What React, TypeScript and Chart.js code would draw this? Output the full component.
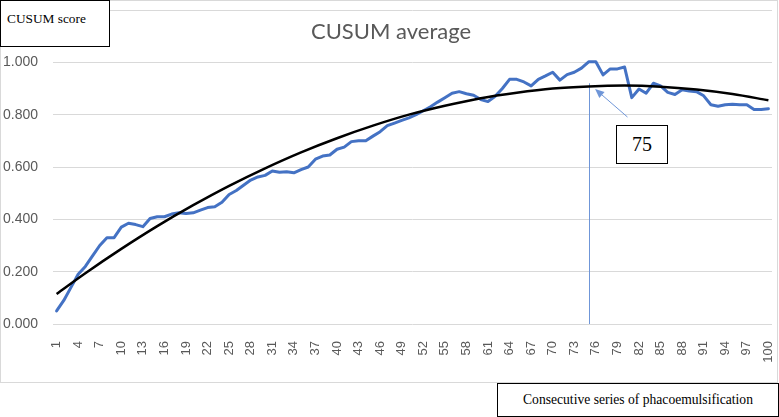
import { useEffect, useRef } from 'react';
import { Chart, registerables } from 'chart.js';

Chart.register(...registerables);

const categories: string[] = Array.from({ length: 100 }, (_, i) => String(i + 1));

const cusumAverage: number[] = [
  0.05, 0.09, 0.14, 0.19, 0.22, 0.26, 0.3, 0.33, 0.33, 0.37,
  0.385, 0.38, 0.372, 0.403, 0.41, 0.41, 0.42, 0.425, 0.422, 0.425,
  0.435, 0.445, 0.448, 0.465, 0.495, 0.51, 0.53, 0.55, 0.562, 0.568,
  0.585, 0.58, 0.582, 0.578, 0.59, 0.6, 0.63, 0.642, 0.646, 0.668,
  0.676, 0.697, 0.7, 0.7, 0.718, 0.735, 0.758, 0.768, 0.778, 0.788,
  0.8, 0.815, 0.83, 0.848, 0.865, 0.882, 0.888, 0.88, 0.874, 0.858,
  0.85, 0.87, 0.9, 0.935, 0.935, 0.925, 0.91, 0.935, 0.948, 0.962,
  0.932, 0.953, 0.962, 0.978, 1.002, 1.002, 0.952, 0.975, 0.975, 0.982,
  0.865, 0.898, 0.882, 0.92, 0.91, 0.885, 0.877, 0.895, 0.89, 0.888,
  0.872, 0.838, 0.832, 0.838, 0.84, 0.838, 0.838, 0.82, 0.82, 0.823,
];

const trendCategories: string[] = [
  '1', '5', '10', '15', '20', '25', '30', '35', '40', '45', '50',
  '55', '60', '65', '70', '75', '80', '85', '90', '95', '100',
];
const trendValues: number[] = [
  0.115, 0.194, 0.287, 0.374, 0.454, 0.528, 0.595, 0.656, 0.71, 0.758, 0.8,
  0.834, 0.863, 0.884, 0.9, 0.908, 0.911, 0.907, 0.896, 0.879, 0.855,
];

const titleText = 'CUSUM average';
const yAxisTitle = 'CUSUM score';
const xAxisTitle = 'Consecutive series of phacoemulsification';
const markerLabel = '75';
const markerCategory = '75';
const markerTopValue = 0.92;
const arrowTip = { category: 75.9, value: 0.898 };
const arrowTail = { category: 80.4, value: 0.791 };

const BLUE = '#4472C4';
const MARKER_BLUE = '#6f96d8';
const GREY_TEXT = '#595959';
const GRID = '#d9d9d9';
const SANS = "'Liberation Sans', Arial, sans-serif";

const markerPlugin = {
  id: 'markerPlugin',
  beforeDatasetsDraw(chart: any) {
    const { ctx, scales } = chart;
    const xs = scales.x;
    const ys = scales.y;
    const idx = categories.indexOf(markerCategory);
    const px = Math.round(xs.getPixelForValue(idx)) + 0.5;
    ctx.save();
    ctx.strokeStyle = MARKER_BLUE;
    ctx.lineWidth = 1;
    ctx.beginPath();
    ctx.moveTo(px, ys.getPixelForValue(markerTopValue));
    ctx.lineTo(px, ys.getPixelForValue(0));
    ctx.stroke();
    ctx.restore();
  },
  afterDatasetsDraw(chart: any) {
    const { ctx, scales } = chart;
    const xs = scales.x;
    const ys = scales.y;
    const tx = xs.getPixelForValue(arrowTip.category - 1);
    const ty = ys.getPixelForValue(arrowTip.value);
    const sx = xs.getPixelForValue(arrowTail.category - 1);
    const sy = ys.getPixelForValue(arrowTail.value);
    const ang = Math.atan2(ty - sy, tx - sx);
    const len = 9;
    const wid = 4;
    ctx.save();
    ctx.strokeStyle = MARKER_BLUE;
    ctx.fillStyle = MARKER_BLUE;
    ctx.lineWidth = 1;
    ctx.beginPath();
    ctx.moveTo(sx, sy);
    ctx.lineTo(tx - Math.cos(ang) * len * 0.8, ty - Math.sin(ang) * len * 0.8);
    ctx.stroke();
    ctx.beginPath();
    ctx.moveTo(tx, ty);
    ctx.lineTo(
      tx - Math.cos(ang) * len + Math.sin(ang) * wid,
      ty - Math.sin(ang) * len - Math.cos(ang) * wid
    );
    ctx.lineTo(
      tx - Math.cos(ang) * len - Math.sin(ang) * wid,
      ty - Math.sin(ang) * len + Math.cos(ang) * wid
    );
    ctx.closePath();
    ctx.fill();
    ctx.restore();
  },
};

function zeroPadding(s: any) {
  s.paddingTop = 0;
  s.paddingBottom = 0;
  s.paddingLeft = 0;
  s.paddingRight = 0;
}

export default function App() {
  const canvasRef = useRef<HTMLCanvasElement | null>(null);

  useEffect(() => {
    if (!canvasRef.current) return;
    const chart = new Chart(canvasRef.current, {
      type: 'line',
      data: {
        labels: categories,
        datasets: [
          {
            label: 'CUSUM average',
            data: cusumAverage,
            borderColor: BLUE,
            backgroundColor: BLUE,
            borderWidth: 3,
            pointRadius: 0,
            tension: 0,
            borderJoinStyle: 'round',
            borderCapStyle: 'round',
            order: 2,
          },
          {
            label: 'Trend',
            data: trendCategories.map((c, i) => ({ x: c, y: trendValues[i] })),
            borderColor: '#000000',
            backgroundColor: '#000000',
            borderWidth: 2.5,
            pointRadius: 0,
            cubicInterpolationMode: 'monotone',
            order: 1,
          },
        ],
      },
      options: {
        responsive: false,
        animation: false,
        events: [],
        layout: { padding: { left: 0, right: 7, top: 10, bottom: 0 } },
        plugins: {
          legend: { display: false },
          tooltip: { enabled: false },
          title: { display: false },
        },
        scales: {
          x: {
            type: 'category',
            offset: true,
            grid: { display: false },
            border: { display: false },
            ticks: {
              autoSkip: false,
              minRotation: 90,
              maxRotation: 90,
              padding: 9,
              color: GREY_TEXT,
              font: { family: SANS, size: 13 },
              callback: (_v: any, i: number) => (i % 3 === 0 ? categories[i] : ''),
            },
            afterFit: (s: any) => {
              s.height = 93;
              zeroPadding(s);
            },
          },
          y: {
            min: 0,
            max: 1.2,
            ticks: {
              stepSize: 0.2,
              padding: 15,
              color: GREY_TEXT,
              font: { family: SANS, size: 14 },
              callback: (v: any) => (Number(v) > 1.001 ? '' : Number(v).toFixed(3)),
            },
            grid: { color: GRID, lineWidth: 1, drawTicks: false },
            border: { display: false },
            afterFit: (s: any) => {
              s.width = 53;
              zeroPadding(s);
            },
          },
        },
      },
      plugins: [markerPlugin],
    } as any);
    return () => chart.destroy();
  }, []);

  const serif = "'Liberation Serif', 'Times New Roman', serif";

  return (
    <div
      style={{
        position: 'absolute',
        left: 0,
        top: 0,
        width: 779,
        height: 417,
        background: '#ffffff',
        overflow: 'hidden',
      }}
    >
      <div
        style={{
          position: 'absolute',
          left: 0,
          top: 0,
          width: 778,
          height: 383,
          boxSizing: 'border-box',
          border: `1px solid ${GRID}`,
        }}
      />
      <canvas
        ref={canvasRef}
        width={779}
        height={417}
        style={{ position: 'absolute', left: 0, top: 0, width: 779, height: 417 }}
      />
      <div
        style={{
          position: 'absolute',
          left: 0,
          top: 18,
          width: 782,
          textAlign: 'center',
          fontFamily: 'Lato, sans-serif',
          fontSize: 22,
          lineHeight: '26px',
          color: GREY_TEXT,
          whiteSpace: 'nowrap',
        }}
      >
        {titleText}
      </div>
      <div
        style={{
          position: 'absolute',
          left: 0,
          top: 0,
          width: 110,
          height: 47,
          boxSizing: 'border-box',
          border: '1px solid #000',
          background: '#fff',
          paddingLeft: 6,
          paddingTop: 10,
          fontFamily: serif,
          fontSize: 13.33,
          lineHeight: '16px',
          color: '#000',
          whiteSpace: 'nowrap',
        }}
      >
        {yAxisTitle}
      </div>
      <div
        style={{
          position: 'absolute',
          left: 616,
          top: 125,
          width: 52,
          height: 39,
          boxSizing: 'border-box',
          border: '1px solid #000',
          background: '#fff',
          display: 'flex',
          alignItems: 'center',
          justifyContent: 'center',
          fontFamily: serif,
          fontSize: 20,
          color: '#000',
        }}
      >
        {markerLabel}
      </div>
      <div
        style={{
          position: 'absolute',
          left: 497,
          top: 383,
          width: 282,
          height: 34,
          boxSizing: 'border-box',
          border: '1px solid #000',
          background: '#fff',
          display: 'flex',
          alignItems: 'center',
          justifyContent: 'center',
          fontFamily: serif,
          fontSize: 13.6,
          color: '#000',
          whiteSpace: 'nowrap',
        }}
      >
        {xAxisTitle}
      </div>
    </div>
  );
}
